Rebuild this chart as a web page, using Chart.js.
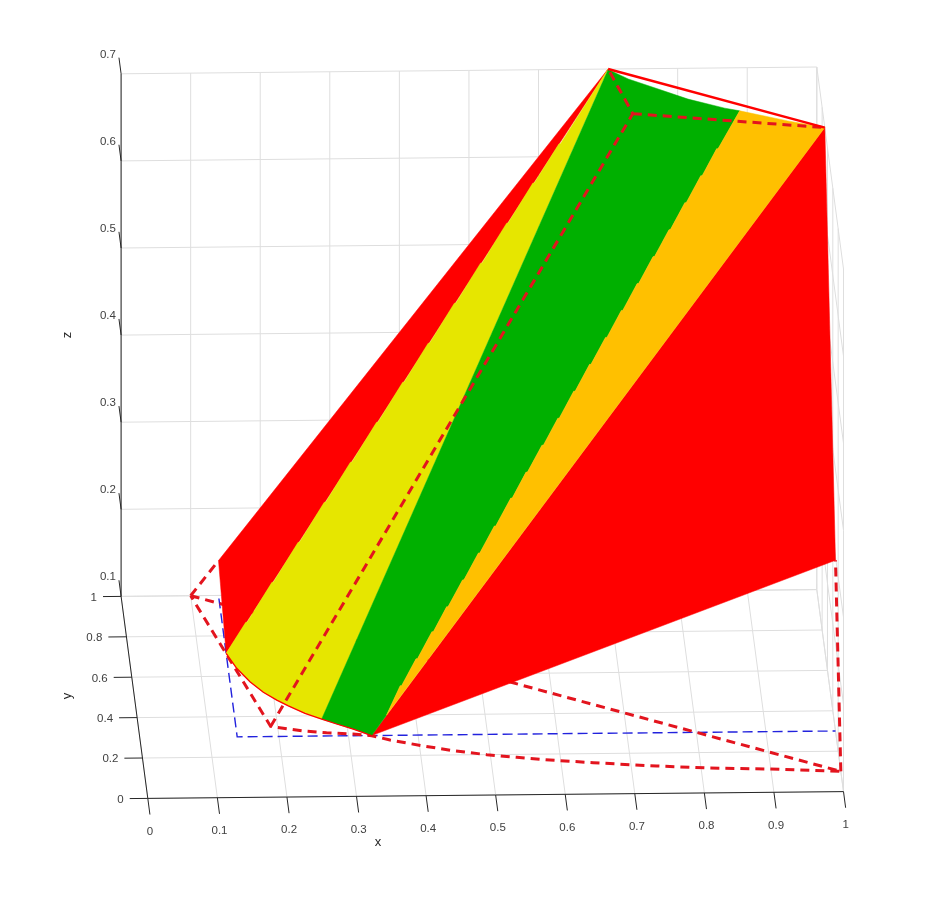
<!DOCTYPE html>
<html>
<head>
<meta charset="utf-8">
<style>
  body { margin: 0; background: #fff; }
  #chart { display: block; }
</style>
<script src="https://cdn.jsdelivr.net/npm/chart.js@4/dist/chart.umd.min.js"></script>
</head>
<body>
<canvas id="chart" width="933" height="898"></canvas>
<script>
const xTicks = [0, 0.1, 0.2, 0.3, 0.4, 0.5, 0.6, 0.7, 0.8, 0.9, 1];
const yTicks = [0, 0.2, 0.4, 0.6, 0.8, 1];
const zTicks = [0.1, 0.2, 0.3, 0.4, 0.5, 0.6, 0.7];

// floor outline and top triangle of the prism, [x, y, z]
const floorOutline = [
  [0.1, 1, 0.1], [1, 0.1, 0.1], [0.8987, 0.1153, 0.1], [0.8098, 0.1233, 0.1], [0.7367, 0.1356, 0.1],
  [0.6987, 0.1433, 0.1], [0.6464, 0.155, 0.1], [0.5847, 0.1704, 0.1], [0.5374, 0.1854, 0.1],
  [0.4949, 0.1997, 0.1], [0.4477, 0.2211, 0.1], [0.4033, 0.2473, 0.1], [0.3588, 0.277, 0.1],
  [0.3333, 0.2992, 0.1], [0.3069, 0.3085, 0.1], [0.269, 0.316, 0.1], [0.2353, 0.3257, 0.1],
  [0.19, 0.35, 0.1], [0.1, 1, 0.1]
];
const floorBack = [0.19, 0.35, 0.1];
const topBack = [0.727, 0.778, 0.7];
const topLeft = [0.7, 1, 0.7];
const topRight = [1, 0.7, 0.7];
const sideEdgeLeft = [[0.1, 1, 0.1], [0.14, 1, 0.14]];
const sideEdgeRight = [[1, 0.1, 0.1], [1, 0.3, 0.296]];

const blueLimit = [[0.14, 0.985, 0.1], [0.14, 0.3, 0.1], [1, 0.3, 0.1]];

// lower arc of the surface, on the floor
const arcYellow = [
  [0.14, 0.7136, 0.1], [0.1523, 0.639, 0.1], [0.1688, 0.572, 0.1], [0.186, 0.519, 0.1],
  [0.2038, 0.48, 0.1], [0.2193, 0.451, 0.1], [0.2418, 0.413, 0.1], [0.2647, 0.384, 0.1]
];
const arcGreen = [[0.2647, 0.384, 0.1], [0.2853, 0.3587, 0.1], [0.3082, 0.333, 0.1], [0.3333, 0.3, 0.1]];
// upper rim of the surface
const rimGreen = [[0.881, 0.787, 0.7], [0.86, 0.801, 0.7], [0.809, 0.8475, 0.7], [0.768, 0.899, 0.7], [0.727, 0.95, 0.7], [0.7, 0.998, 0.7]];
const rimOrange = [[1, 0.7, 0.7], [0.948, 0.735, 0.7], [0.881, 0.787, 0.7]];
const orangeTip = [0.355, 0.313, 0.12];
// stepped border between green and orange
const stepsGreenOrange = [
  [0.3768, 0.3389, 0.1479], [0.4004, 0.3599, 0.1738], [0.4240, 0.3809, 0.1997], [0.4459, 0.4004, 0.2237],
  [0.4696, 0.4214, 0.2495], [0.4932, 0.4424, 0.2754], [0.5169, 0.4634, 0.3013], [0.5414, 0.4852, 0.3281],
  [0.5641, 0.5054, 0.3530], [0.5878, 0.5264, 0.3789], [0.6114, 0.5474, 0.4048], [0.6350, 0.5684, 0.4307],
  [0.6586, 0.5894, 0.4565], [0.6823, 0.6104, 0.4824], [0.7059, 0.6314, 0.5083], [0.7295, 0.6524, 0.5342],
  [0.7532, 0.6734, 0.5601], [0.7768, 0.6944, 0.5859], [0.8004, 0.7154, 0.6118], [0.8241, 0.7364, 0.6377],
  [0.8477, 0.7574, 0.6636]
];
// stepped border between the left red part and yellow
const stepsRedYellow = [
  [0.1697, 0.7282, 0.1319], [0.2081, 0.7479, 0.1730], [0.2465, 0.7676, 0.2141], [0.2848, 0.7872, 0.2552],
  [0.3232, 0.8069, 0.2963], [0.3615, 0.8265, 0.3373], [0.3998, 0.8462, 0.3784], [0.4372, 0.8653, 0.4185],
  [0.4756, 0.8850, 0.4596], [0.5140, 0.9047, 0.5007], [0.5523, 0.9243, 0.5418], [0.5907, 0.9440, 0.5829],
  [0.6290, 0.9606, 0.6240]
];
const redLeft = [[0.14, 1, 0.14], [0.7, 1, 0.7], [0.14, 0.7136, 0.1]];
const redRight = [[0.3333, 0.3, 0.1], [1, 0.7, 0.7], [1, 0.3, 0.296]];
const apex = [0.7, 1, 0.7];

const GRID = '#dedede';
const AXIS = '#262626';
const TEXT = '#404040';
const RED = '#ff0000';
const RED_DASH = '#e3141e';
const DASH = [9, 6];
const STEP = 0.001;

// the reference view is orthographic, this is its camera
function project(p) {
  return {
    x: 147.8 + 695.7 * p[0] - 26.7 * p[1],
    y: 798.4 - 6.8 * p[0] - 202 * p[1] - 871 * (p[2] - 0.1)
  };
}

const datasets = [];
function addLine(points, color, width, dash) {
  datasets.push({ data: points.map(project), borderColor: color, borderWidth: width, borderDash: dash || [], fill: false });
}
function addPoly(points, color) {
  datasets.push({ data: points.concat([points[0]]).map(project), borderColor: color, backgroundColor: color, borderWidth: 0.5, fill: 'shape' });
}
function notch(list) {
  return list.flatMap(p => [[p[0] - STEP, p[1], p[2]], [p[0] + STEP, p[1], p[2]]]);
}

// grid
const zMin = zTicks[0], zMax = zTicks[zTicks.length - 1];
xTicks.forEach(x => {
  addLine([[x, 0, zMin], [x, 1, zMin], [x, 1, zMax]], GRID, 1);
});
yTicks.forEach(y => {
  addLine([[0, y, zMin], [1, y, zMin], [1, y, zMax]], GRID, 1);
});
zTicks.forEach(z => {
  addLine([[0, 1, z], [1, 1, z], [1, 0, z]], GRID, 1);
});

// axes and tick marks
addLine([[1, 0, zMin], [0, 0, zMin], [0, 1, zMin], [0, 1, zMax]], AXIS, 1);
xTicks.forEach(x => addLine([[x, 0, zMin], [x, -0.08, zMin]], AXIS, 1));
yTicks.forEach(y => addLine([[0, y, zMin], [-0.026, y, zMin]], AXIS, 1));
zTicks.forEach(z => addLine([[0, 1, z], [0, 1.08, z]], AXIS, 1));

// lines behind the surface
addLine(blueLimit, '#2222dd', 1.4, [10, 5]);
addLine(floorOutline, RED_DASH, 3, DASH);
addLine(sideEdgeLeft, RED_DASH, 3, DASH);
addLine(sideEdgeRight, RED_DASH, 3, DASH);

// surface bands
const steppedGreen = notch(stepsGreenOrange);
const steppedYellow = notch(stepsRedYellow);
addPoly(redLeft, RED);
addPoly(redRight, RED);
addPoly(arcYellow.concat([apex], steppedYellow.slice().reverse()), '#e6e600');
addPoly(arcGreen.concat([orangeTip], steppedGreen, rimGreen), '#00b000');
addPoly([orangeTip].concat(steppedGreen, rimOrange.slice().reverse()), '#ffc000');

// lines in front of the surface
addLine(arcYellow.concat(arcGreen), RED, 1.3);
addLine([floorBack, topBack, topLeft], RED_DASH, 3, DASH);
addLine([topBack, topRight], RED_DASH, 3, DASH);
addLine([topLeft, topRight], RED, 2.5);

// first dataset in the list must be painted first
datasets.forEach((d, i) => { d.order = datasets.length - i; });

const axisText = {
  id: 'axisText',
  afterDatasetsDraw(chart) {
    const ctx = chart.ctx;
    const sx = chart.scales.x, sy = chart.scales.y;
    const put = (p, dx, dy, text, align) => {
      const q = project(p);
      ctx.textAlign = align;
      ctx.fillText(text, sx.getPixelForValue(q.x) + dx, sy.getPixelForValue(q.y) + dy);
    };
    ctx.save();
    ctx.font = '11.5px "Liberation Sans"';
    ctx.fillStyle = TEXT;
    ctx.textBaseline = 'middle';
    xTicks.forEach(x => put([x, -0.08, zMin], 0, 17, String(x), 'center'));
    yTicks.forEach(y => put([-0.026, y, zMin], -6, 1, String(y), 'right'));
    zTicks.forEach(z => put([0, 1.08, z], -3, -3, String(z), 'right'));

    ctx.font = '13px "Liberation Sans"';
    ctx.fillStyle = AXIS;
    put([0.332, -0.08, zMin], -3, 30, 'x', 'center');
    const rotated = (px, py, text) => {
      ctx.save();
      ctx.translate(sx.getPixelForValue(px), sy.getPixelForValue(py));
      ctx.rotate(-Math.PI / 2);
      ctx.textAlign = 'center';
      ctx.fillText(text, 0, 0);
      ctx.restore();
    };
    rotated(67, 696, 'y');
    rotated(67, 335, 'z');
    ctx.restore();
  }
};

new Chart(document.getElementById('chart'), {
  type: 'scatter',
  data: { datasets },
  options: {
    responsive: false,
    animation: false,
    layout: { padding: 0 },
    elements: { point: { radius: 0 }, line: { tension: 0, borderCapStyle: 'butt', borderJoinStyle: 'miter' } },
    datasets: { scatter: { showLine: true } },
    plugins: { legend: { display: false }, tooltip: { enabled: false }, title: { display: false } },
    scales: {
      x: { type: 'linear', min: 0, max: 933, display: false },
      y: { type: 'linear', min: 0, max: 898, reverse: true, display: false }
    }
  },
  plugins: [axisText]
});
</script>
</body>
</html>
